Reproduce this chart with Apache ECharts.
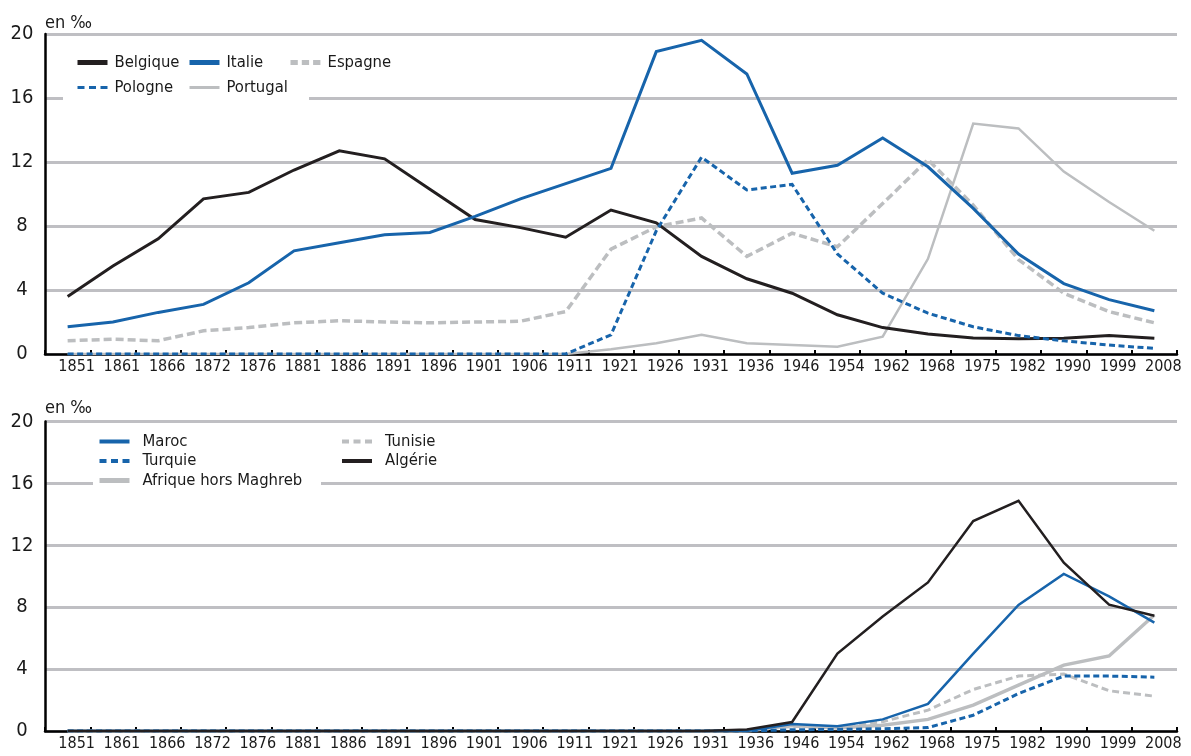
<!DOCTYPE html>
<html><head><meta charset="utf-8">
<script src="https://cdn.jsdelivr.net/npm/echarts@6/dist/echarts.min.js"></script>
<style>html,body{margin:0;padding:0;background:#fff}#c{width:1191px;height:756px}</style>
</head><body><div id="c"></div>
<script>
const years = ['1851','1861','1866','1872','1876','1881','1886','1891','1896','1901','1906','1911','1921','1926','1931','1936','1946','1954','1962','1968','1975','1982','1990','1999','2008'];

// Top panel (en ‰)
const belgique = [3.6,5.5,7.2,9.7,10.1,11.5,12.7,12.2,10.3,8.4,7.9,7.3,9.0,8.2,6.1,4.7,3.8,2.45,1.65,1.25,1.0,0.95,0.98,1.15,0.98];
const italie   = [1.7,2.0,2.6,3.1,4.45,6.45,6.95,7.45,7.6,8.6,9.7,10.65,11.6,18.9,19.6,17.5,11.3,11.8,13.5,11.7,9.1,6.25,4.4,3.4,2.7];
const espagne  = [0.83,0.92,0.83,1.45,1.65,1.95,2.08,2.0,1.95,2.0,2.05,2.65,6.55,7.95,8.5,6.1,7.55,6.7,9.4,12.15,9.3,5.9,3.8,2.65,1.95];
const pologne  = [0,0,0,0,0,0,0,0,0,0,0,0,1.2,7.7,12.3,10.25,10.6,6.25,3.8,2.55,1.7,1.15,0.82,0.56,0.35];
const portugal = [0,0,0,0,0,0,0,0,0,0,0,0,0.3,0.67,1.2,0.67,0.56,0.46,1.08,5.95,14.4,14.1,11.4,9.5,7.7];

// Bottom panel (en ‰)
const maroc   = [0,0,0,0,0,0,0,0,0,0,0,0,0,0,0,0,0.45,0.3,0.75,1.75,5.0,8.15,10.15,8.7,7.0];
const turquie = [0,0,0,0,0,0,0,0,0,0,0,0,0,0,0,0,0.08,0.1,0.15,0.22,1.02,2.42,3.55,3.55,3.48];
const afrique = [0,0,0,0,0,0,0,0,0,0,0,0,0,0,0,0,0.35,0.2,0.37,0.75,1.67,2.97,4.26,4.85,7.5];
const tunisie = [0,0,0,0,0,0,0,0,0,0,0,0,0,0,0,0,0.3,0.25,0.6,1.35,2.68,3.55,3.68,2.6,2.25];
const algerie = [0,0,0,0,0,0,0,0,0,0,0,0,0,0,0,0.1,0.58,5.0,7.4,9.6,13.57,14.87,10.87,8.16,7.45];

const FONT = "'Liberation Sans Narrow','Arial Narrow','DejaVu Sans Condensed',sans-serif";
const BLUE = '#1764ab', BLACK = '#231f20', GREY = '#bcbec0';

function xAxis(gi) {
  return {
    type: 'category', gridIndex: gi, data: years, boundaryGap: true,
    axisLine: { lineStyle: { color: '#000', width: 2.5 } },
    axisTick: { show: true, inside: true, length: 4, lineStyle: { color: '#000', width: 2 } },
    axisLabel: { interval: 0, color: '#1a1a1a', fontFamily: FONT, fontSize: 16, margin: 5, padding: [0, 0, 0, 18] }
  };
}
function yAxis(gi, gap) {
  return {
    type: 'value', gridIndex: gi, min: 0, max: 20, interval: 4,
    name: 'en ‰', nameLocation: 'end', nameGap: gap,
    nameTextStyle: { align: 'left', verticalAlign: 'middle', color: '#1a1a1a', fontFamily: FONT, fontSize: 18 },
    axisLine: { show: true, lineStyle: { color: '#000', width: 2.5 } },
    axisTick: { show: false },
    axisLabel: { color: '#1a1a1a', fontFamily: FONT, fontSize: 20, align: 'center', margin: 23 },
    splitLine: { show: true, lineStyle: { color: '#bfbfc3', width: 3 } }
  };
}
function line(name, data, gi, color, width, dash, z) {
  return {
    name, type: 'line', data, xAxisIndex: gi, yAxisIndex: gi,
    symbol: 'none', silent: true, z: z || 2,
    lineStyle: { color, width, type: dash || 'solid', cap: 'butt', join: 'miter' },
    itemStyle: { color }
  };
}
function leg(items, left, top, h, gap, pad) {
  return {
    orient: 'vertical', left, top, padding: 0, itemGap: gap,
    itemWidth: 30, itemHeight: h, selectedMode: false,
    itemStyle: { opacity: 0 },
    textStyle: { fontFamily: FONT, fontSize: 16.5, color: '#1a1a1a', padding: [0, 0, 0, pad] },
    data: items
  };
}

const chart = echarts.init(document.getElementById('c'), null, { renderer: 'canvas' });
chart.setOption({
  animation: false,
  backgroundColor: '#fff',
  grid: [
    { left: 45, top: 34, width: 1132, height: 320 },
    { left: 45, top: 421.5, width: 1132, height: 309.5 }
  ],
  xAxis: [xAxis(0), xAxis(1)],
  yAxis: [yAxis(0, 11), yAxis(1, 13)],
  graphic: [
    { type: 'rect', z: 3, shape: { x: 63, y: 90, width: 246, height: 16 }, style: { fill: '#fff' } },
    { type: 'rect', z: 3, shape: { x: 93, y: 476, width: 228, height: 15 }, style: { fill: '#fff' } }
  ],
  legend: [
    leg([{ name: 'Belgique', lineStyle: { width: 5 } }, { name: 'Pologne', lineStyle: { width: 3, type: [7, 4.5] } }], 75, 54, 20, 8, 2),
    leg([{ name: 'Italie', lineStyle: { width: 5 } }, { name: 'Portugal', lineStyle: { width: 3 } }], 187, 54, 20, 8, 2),
    leg([{ name: 'Espagne', lineStyle: { width: 5, type: [7.3, 4] } }], 288, 54, 20, 8, 2),
    leg([{ name: 'Maroc', lineStyle: { width: 4 } }, { name: 'Turquie', lineStyle: { width: 4, type: [7, 4.5] } }, { name: 'Afrique hors Maghreb', lineStyle: { width: 5 } }], 97, 433, 18, 2.5, 8),
    leg([{ name: 'Tunisie', lineStyle: { width: 4, type: [7, 4.5] } }, { name: 'Algérie', lineStyle: { width: 4 } }], 340, 433, 18, 2.5, 8)
  ],
  series: [
    line('Portugal', portugal, 0, GREY, 2.5),
    line('Espagne', espagne, 0, GREY, 3.5, [8, 4]),
    line('Belgique', belgique, 0, BLACK, 3),
    line('Pologne', pologne, 0, BLUE, 3, [6, 3.5]),
    line('Italie', italie, 0, BLUE, 3),
    line('Afrique hors Maghreb', afrique, 1, GREY, 3.5),
    line('Tunisie', tunisie, 1, GREY, 3, [7, 4]),
    line('Turquie', turquie, 1, BLUE, 3, [6, 3.5]),
    line('Maroc', maroc, 1, BLUE, 2.5),
    line('Algérie', algerie, 1, BLACK, 2.5)
  ]
});
</script></body></html>
